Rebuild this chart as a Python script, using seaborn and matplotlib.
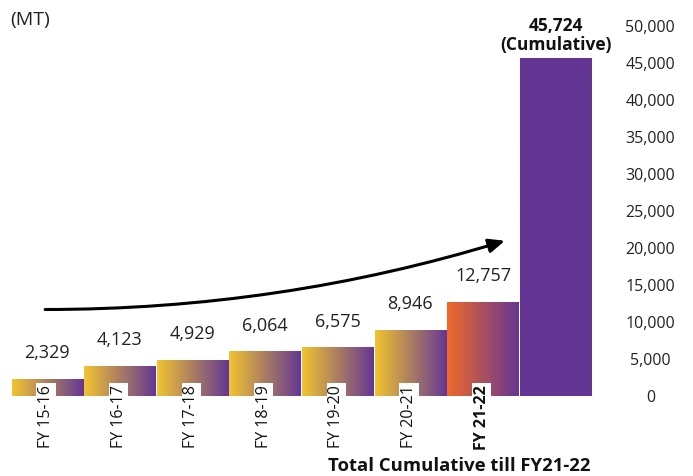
import numpy as np
import pandas as pd
import matplotlib
matplotlib.use("Agg")
import matplotlib.pyplot as plt
import seaborn as sns
from matplotlib.colors import LinearSegmentedColormap

categories = ["FY 15-16", "FY 16-17", "FY 17-18", "FY 18-19", "FY 19-20", "FY 20-21", "FY 21-22", "Cumulative"]
values = [2329, 4123, 4929, 6064, 6575, 8946, 12757, 45724]
value_labels = ["2,329", "4,123", "4,929", "6,064", "6,575", "8,946", "12,757", "45,724\n(Cumulative)"]
tick_labels = ["FY 15-16", "FY 16-17", "FY 17-18", "FY 18-19", "FY 19-20", "FY 20-21", "FY 21-22", ""]
y_ticks = [0, 5000, 10000, 15000, 20000, 25000, 30000, 35000, 40000, 45000, 50000]

YELLOW = "#F1C431"
ORANGE = "#EE6A2A"
PURPLE = "#643694"

sns.set_theme(style="white")
plt.rcParams["font.family"] = ["Open Sans", "DejaVu Sans"]

fig = plt.figure(figsize=(6.93, 4.76), dpi=100)
W, H = 693, 476
left_px, right_px, bottom_px, top_px = 11, 592, 396, 2
ax = fig.add_axes([left_px / W, 1 - bottom_px / H, (right_px - left_px) / W, (bottom_px - top_px) / H])

df = pd.DataFrame({"cat": categories, "val": values})
sns.barplot(data=df, x="cat", y="val", ax=ax, width=0.985, color=PURPLE, saturation=1)

YMAX = 53300
ax.set_xlim(-0.5, 7.5)
ax.set_ylim(0, YMAX)

starts = [YELLOW] * 6 + [ORANGE] + [PURPLE]
grad = np.linspace(0, 1, 256).reshape(1, -1)
for patch, c0 in zip(ax.patches, starts):
    x0, y0 = patch.get_x(), patch.get_y()
    w, h = patch.get_width(), patch.get_height()
    cmap = LinearSegmentedColormap.from_list("g", [c0, PURPLE])
    im = ax.imshow(grad, cmap=cmap, extent=[x0, x0 + w, y0, y0 + h], aspect="auto", zorder=2)
    im.set_clip_path(patch)
    patch.set_facecolor("none")
    patch.set_edgecolor("none")

ax.set_xlim(-0.5, 7.5)
ax.set_ylim(0, YMAX)

# value labels
for i, (v, lab) in enumerate(zip(values, value_labels)):
    if i == len(values) - 1:
        ax.annotate(lab, xy=(i, v), xytext=(0, 3), textcoords="offset points",
                    ha="center", va="bottom", fontsize=12.5, fontweight="bold",
                    linespacing=1.05, color="#111111")
    else:
        ax.annotate(lab, xy=(i, v), xytext=(0, 12), textcoords="offset points",
                    ha="center", va="bottom", fontsize=13, color="#222222")

# category labels (rotated, white box)
for i, lab in enumerate(tick_labels):
    if not lab:
        continue
    ax.annotate(lab, xy=(i, 0), xytext=(-1, 8), textcoords="offset points",
                ha="center", va="top", rotation=90, fontsize=11.5,
                fontweight="bold" if lab == "FY 21-22" else "normal",
                color="#111111", zorder=5,
                bbox=dict(boxstyle="square,pad=0.1", fc="white", ec="none"))

# axes styling
ax.set_xticks([])
ax.set_xlabel("")
ax.set_ylabel("")
ax.yaxis.tick_right()
ax.set_yticks(y_ticks)
ax.set_yticklabels([f"{t:,}" for t in y_ticks], fontsize=11.5, color="#222222")
for lbl in ax.get_yticklabels():
    lbl.set_horizontalalignment("center")
ax.tick_params(axis="y", length=0, pad=42)
for s in ax.spines.values():
    s.set_visible(False)

# arrow
ax.annotate("", xy=(6.3, 21000), xytext=(-0.03, 11700),
            arrowprops=dict(arrowstyle="-|>,head_length=0.8,head_width=0.35", color="black",
                            lw=2.2, connectionstyle="arc3,rad=0.075", shrinkA=0, shrinkB=0),
            zorder=6)

fig.text(10 / W, 1 - 20 / H, "(MT)", fontsize=14, va="center", ha="left", color="#222222")
fig.text(459 / W, 1 - 466 / H, "Total Cumulative till FY21-22", fontsize=13.3, fontweight="bold",
         va="center", ha="center", color="#111111")

fig.savefig("out.png", dpi=100, facecolor="white")
